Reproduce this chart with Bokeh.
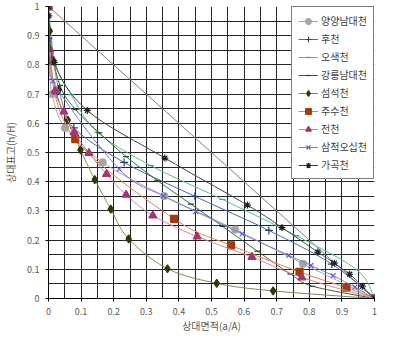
from bokeh.plotting import figure
from bokeh.models import Range1d, FixedTicker, Legend, LegendItem
from bokeh.embed import file_html
from bokeh.resources import INLINE

# ---- axis ticks ----
tick_values = [0, 0.1, 0.2, 0.3, 0.4, 0.5, 0.6, 0.7, 0.8, 0.9, 1]
tick_labels = ["0", "0.1", "0.2", "0.3", "0.4", "0.5", "0.6", "0.7", "0.8", "0.9", "1"]
minor_values = [0.05, 0.15, 0.25, 0.35, 0.45, 0.55, 0.65, 0.75, 0.85, 0.95]

x_title = "상대면적(a/A)"
y_title = "상대표고(h/H)"

# ---- series (relative area x, relative height y) ----
yangyang_x = [0, 0.002, 0.011, 0.051, 0.166, 0.355, 0.573, 0.781, 1]
yangyang_y = [1, 0.82, 0.70, 0.584, 0.466, 0.351, 0.236, 0.119, 0]

hu_x = [0, 0.005, 0.025, 0.078, 0.232, 0.449, 0.676, 0.869, 1]
hu_y = [1, 0.82, 0.70, 0.584, 0.466, 0.35, 0.233, 0.118, 0]

osaek_x = [0, 0.02, 0.069, 0.151, 0.314, 0.534, 0.76, 0.946, 1]
osaek_y = [1, 0.81, 0.698, 0.569, 0.455, 0.339, 0.215, 0.098, 0]

gangneung_x = [0, 0.003, 0.035, 0.083, 0.156, 0.238, 0.333, 0.437, 0.534, 0.641, 0.742, 0.81, 1]
gangneung_y = [1, 0.89, 0.73, 0.647, 0.567, 0.486, 0.405, 0.323, 0.247, 0.162, 0.084, 0.042, 0]

seomseok_x = [0, 0.004, 0.015, 0.032, 0.059, 0.098, 0.142, 0.191, 0.246, 0.365, 0.516, 0.689, 1]
seomseok_y = [1, 0.916, 0.815, 0.715, 0.611, 0.509, 0.407, 0.306, 0.204, 0.102, 0.052, 0.026, 0]

jusu_x = [0, 0.001, 0.082, 0.385, 0.560, 0.770, 0.914, 1]
jusu_y = [1, 0.816, 0.546, 0.273, 0.182, 0.091, 0.037, 0]

jeon_x = [0, 0.004, 0.02, 0.047, 0.079, 0.124, 0.178, 0.238, 0.32, 0.456, 0.624, 0.777, 1]
jeon_y = [1, 0.853, 0.711, 0.64, 0.569, 0.498, 0.426, 0.355, 0.284, 0.212, 0.142, 0.072, 0]

samcheok_x = [0, 0.003, 0.014, 0.217, 0.353, 0.452, 0.594, 0.737, 0.805, 0.873, 0.94, 1]
samcheok_y = [1, 0.887, 0.745, 0.443, 0.351, 0.298, 0.221, 0.148, 0.113, 0.078, 0.039, 0]

gagok_x = [0, 0.001, 0.017, 0.119, 0.357, 0.61, 0.716, 0.826, 0.877, 0.924, 0.963, 1]
gagok_y = [1, 0.968, 0.808, 0.644, 0.481, 0.32, 0.243, 0.159, 0.121, 0.083, 0.042, 0]

diag_x = [0, 1]
diag_y = [1, 0]

series = [
    ("양양남대천", yangyang_x, yangyang_y, "#A6A6A6", "#A6A6A6", "circle", 7),
    ("후천", hu_x, hu_y, "#3E6AAA", "#1F3F7A", "cross", 8),
    ("오색천", osaek_x, osaek_y, "#4DBF8C", "#3AA878", "dash", 6),
    ("강릉남대천", gangneung_x, gangneung_y, "#2E6B2E", "#1B4D1B", "dash", 6),
    ("섬석천", seomseok_x, seomseok_y, "#858548", "#33330D", "diamond", 8),
    ("주수천", jusu_x, jusu_y, "#E8804A", "#A33A0A", "square", 7),
    ("전천", jeon_x, jeon_y, "#E07BA8", "#A8336E", "triangle", 8),
    ("삼척오십천", samcheok_x, samcheok_y, "#7B7BE0", "#6060D0", "x", 7),
    ("가곡천", gagok_x, gagok_y, "#404040", "#202020", "asterisk", 7),
]


def smooth_path(xs, ys, steps=16):
    """Excel-style smoothed line (cubic Bezier through the data points)."""
    n = len(xs)
    px, py = [xs[0]], [ys[0]]
    for i in range(n - 1):
        x0, y0 = xs[max(i - 1, 0)], ys[max(i - 1, 0)]
        x1, y1 = xs[i], ys[i]
        x2, y2 = xs[i + 1], ys[i + 1]
        x3, y3 = xs[min(i + 2, n - 1)], ys[min(i + 2, n - 1)]
        c1x, c1y = x1 + (x2 - x0) / 6.0, y1 + (y2 - y0) / 6.0
        c2x, c2y = x2 - (x3 - x1) / 6.0, y2 - (y3 - y1) / 6.0
        for k in range(1, steps + 1):
            t = k / steps
            a, b, c, d = (1 - t) ** 3, 3 * (1 - t) ** 2 * t, 3 * (1 - t) * t ** 2, t ** 3
            px.append(a * x1 + b * c1x + c * c2x + d * x2)
            py.append(a * y1 + b * c1y + c * c2y + d * y2)
    return px, py


FONT = "Noto Sans CJK KR"

p = figure(width=377, height=335, x_range=Range1d(0, 1), y_range=Range1d(0, 1),
           output_backend="svg", toolbar_location=None,
           min_border_left=40, min_border_right=3, min_border_top=6, min_border_bottom=31)
p.outline_line_color = None
p.background_fill_color = "white"
p.border_fill_color = "white"

ticker = FixedTicker(ticks=tick_values, minor_ticks=minor_values)
overrides = {v: s for v, s in zip(tick_values, tick_labels)}
for ax in (p.xaxis[0], p.yaxis[0]):
    ax.ticker = ticker
    ax.major_label_overrides = overrides
    ax.major_label_text_font = FONT
    ax.major_label_text_font_size = "9px"
    ax.major_label_text_color = "#595959"
    ax.axis_line_color = "black"
    ax.major_tick_line_color = "black"
    ax.major_tick_in = 0
    ax.major_tick_out = 3
    ax.minor_tick_line_color = None
    ax.axis_label_text_font = FONT
    ax.axis_label_text_font_size = "10px"
    ax.axis_label_text_font_style = "normal"
    ax.axis_label_text_color = "#595959"
p.xaxis.major_label_standoff = 5
p.yaxis.major_label_standoff = 5
p.xaxis.axis_label = x_title
p.yaxis.axis_label = y_title
p.xaxis.axis_label_standoff = 0
p.yaxis.axis_label_standoff = 6

for g in (p.xgrid[0], p.ygrid[0]):
    g.ticker = ticker
    g.grid_line_color = "#262626"
    g.grid_line_width = 1
    g.minor_grid_line_color = "#262626"
    g.minor_grid_line_width = 1

p.line(diag_x, diag_y, line_color="#808080", line_width=1)

items = []
for name, xs, ys, lc, mc, mk, sz in series:
    sx, sy = smooth_path(xs, ys)
    lr = p.line(sx, sy, line_color=lc, line_width=1)
    sr = p.scatter(xs, ys, marker=mk, size=sz, fill_color=mc, line_color=mc, line_width=1.2)
    items.append(LegendItem(label=name, renderers=[lr, sr]))

legend = Legend(items=items, location="top_right", margin=0, padding=6, spacing=3,
                label_text_font=FONT, label_text_font_size="10px", label_text_color="#404040",
                label_height=14, glyph_height=14, glyph_width=20, label_standoff=3,
                border_line_color="black", border_line_width=1,
                background_fill_color="white", background_fill_alpha=1)
p.add_layout(legend)

open("out.html", "w").write(file_html(p, INLINE))
